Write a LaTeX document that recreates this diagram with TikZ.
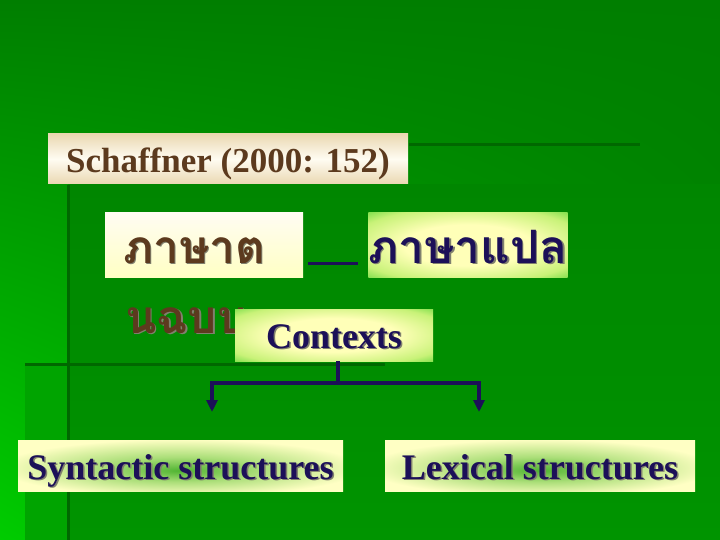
\documentclass[tikz,border=0pt]{standalone}
\usepackage{fontspec}
\setmainfont{Liberation Serif}
\newfontfamily\thaifont[Script=Thai]{Loma}
\usetikzlibrary{arrows.meta,shadings}

\definecolor{bgtop}{RGB}{0,126,0}
\definecolor{bgbl}{RGB}{0,204,0}
\definecolor{bgbr}{RGB}{0,140,0}
\definecolor{panelA}{RGB}{0,134,0}
\definecolor{panelB}{RGB}{0,148,0}
\definecolor{stripc}{RGB}{0,164,0}
\definecolor{decoc}{RGB}{0,104,0}
\definecolor{navy}{RGB}{28,16,88}
\definecolor{brownT}{RGB}{92,58,30}
\definecolor{shadowc}{RGB}{128,128,110}
\definecolor{tanc}{RGB}{234,216,178}
\definecolor{creamc}{RGB}{255,252,242}
\definecolor{gy1}{RGB}{255,255,184}
\definecolor{gy2}{RGB}{200,242,120}
\definecolor{gg}{RGB}{60,206,36}
\definecolor{gg2}{RGB}{40,190,30}
\definecolor{py}{RGB}{255,255,196}
\definecolor{pg}{RGB}{80,180,50}
\definecolor{pg2}{RGB}{170,222,120}

\pgfdeclareradialshading{glowA}{\pgfpoint{0bp}{0bp}}{color(0bp)=(gy1); color(16bp)=(gy1); color(30bp)=(gy2); color(42bp)=(gg); color(50bp)=(gg2)}
\pgfdeclareradialshading{revglow}{\pgfpoint{0bp}{-5bp}}{color(0bp)=(pg); color(12bp)=(pg2); color(28bp)=(py); color(50bp)=(py)}

\newcommand{\shtext}[1]{\rlap{\kern1.5pt\raisebox{-1.5pt}{\textcolor{shadowc}{#1}}}#1}

\begin{document}
\begin{tikzpicture}[x=1pt,y=-1pt,
  deco/.style={line width=3pt, draw=decoc},
  conn/.style={line width=3.2pt, draw=navy},
  tip/.style={-{Triangle[length=12pt,width=11pt]}},
  box/.style={rectangle, anchor=base, inner sep=0pt},
  engl/.style={font=\fontsize{36}{40}\selectfont\bfseries},
  thai/.style={font=\thaifont\bfseries\fontsize{46}{56}\selectfont}]
\useasboundingbox (0,0) rectangle (720,540);
% background
\shade[upper left=bgtop, upper right=bgtop, lower left=bgbl, lower right=bgbr] (0,0) rectangle (720,540);
\shade[top color=panelA, bottom color=panelB] (68,185) rectangle (720,540);
\fill[stripc] (25,364) rectangle (68,540);
\draw[deco] (409,145) -- (640,145);
\draw[deco] (68,185) -- (68,540);
\draw[deco] (25,364) -- (385,364);

% title
\node[box, engl, top color=tanc, bottom color=tanc, middle color=creamc,
      minimum width=360pt, text height=39pt, text depth=11pt, text=brownT,
      font=\fontsize{35}{40}\selectfont\bfseries] (sch) at (228,173) {Schaffner (2000: 152)};

% source language
\node[box, thai, top color=creamc, bottom color=py, text=brownT,
      text width=162pt, inner xsep=18pt, align=left,
      text height=50pt, text depth=14pt] (src) at (204,263) {\shtext{ภาษาต}};
\node[anchor=base west, inner sep=0pt, thai, text=brownT] (src2) at (125,333) {\shtext{นฉบบ}};

% dash
\node[inner sep=0pt] (dash) at (333,263) {\textcolor{navy}{\rule{50pt}{3pt}}};

% target language
\node[box, thai, shading=glowA, minimum width=198pt, text height=50pt, text depth=14pt,
      text=navy] (tgt) at (468,263) {\shtext{ภาษาแปล}};

% contexts
\node[box, engl, shading=glowA, minimum width=198pt, text height=39pt, text depth=13pt,
      text=navy] (ctx) at (334,348) {\shtext{Contexts}};

% structures
\node[box, engl, shading=revglow, minimum width=325pt, text height=39pt, text depth=12pt,
      text=navy] (syn) at (180.5,479) {\shtext{Syntactic structures}};
\node[box, engl, shading=revglow, minimum width=310pt, text height=39pt, text depth=12pt,
      text=navy] (lex) at (540,479) {\shtext{Lexical structures}};

% connectors
\coordinate (j) at (338,383);
\coordinate (a1) at (212,412);
\coordinate (a2) at (479,412);
\draw[conn] (ctx.south -| j) -- (j);
\draw[conn, tip] (j) -| (a1);
\draw[conn, tip] (j) -| (a2);
\end{tikzpicture}
\end{document}
